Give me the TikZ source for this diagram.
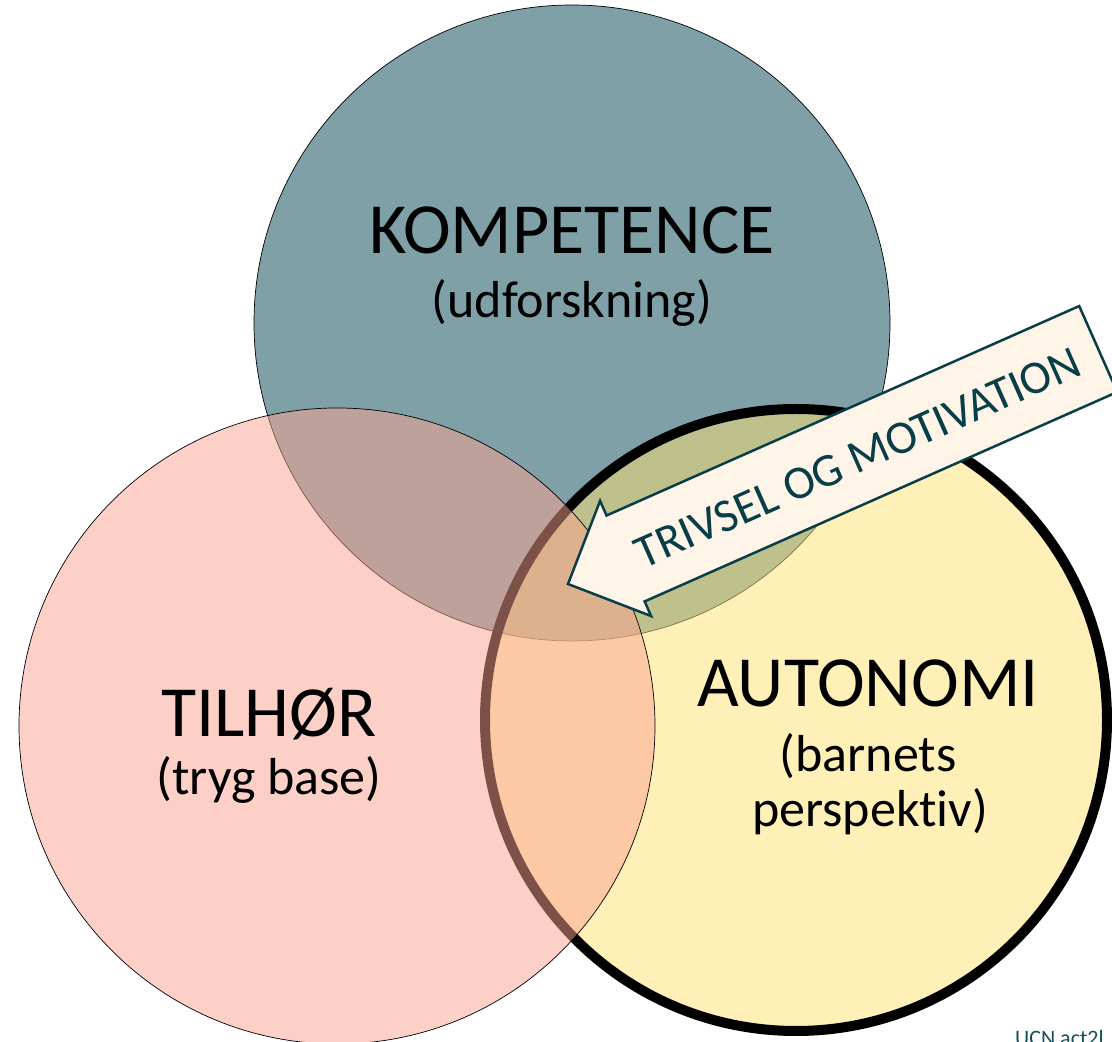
\documentclass[tikz,border=0pt]{standalone}
\usepackage{fontspec}
\setmainfont{Carlito}[Ligatures=NoCommon]
\usepackage{xcolor}
\usetikzlibrary{positioning}

\definecolor{kompteal}{RGB}{127,160,167}
\definecolor{autoyellow}{RGB}{255,227,115}
\definecolor{tilpink}{RGB}{253,163,145}
\definecolor{arrowcream}{RGB}{254,244,232}
\definecolor{arrowteal}{RGB}{8,62,72}
\definecolor{ucnteal}{RGB}{20,80,92}

\newcommand{\bigtxt}{\fontsize{72}{86}\selectfont}
\newcommand{\subtxt}{\fontsize{52}{62}\selectfont}

\tikzset{
  title/.style={anchor=base, inner sep=0pt, font=\bigtxt},
  subtitle/.style={anchor=base, inner sep=0pt, font=\subtxt},
  ring/.style={draw=black, line width=0.7pt}
}

\begin{document}
\begin{tikzpicture}[x=1pt,y=1pt]
\clip (0,0) rectangle (1112,1042);
\fill[white] (0,0) rectangle (1112,1042);

% the three circles
\filldraw[ring, fill=kompteal] (572,719) circle (318);
\filldraw[ring, fill=autoyellow, fill opacity=0.5, line width=10pt] (796,322) circle (311);
\filldraw[ring, fill=tilpink, fill opacity=0.5] (337,316) circle (318);

% labels
\node[title] (kompetence) at (572,788) {KOMPETENCE};
\node[subtitle] (udforskning) at (572,724) {(udforskning)};
\node[title] (tilhor) at (269,305) {TILHØR};
\node[subtitle] (trygbase) at (269,247) {(tryg base)};
\node[title] (autonomi) at (868,335) {AUTONOMI};
\node[subtitle] (barnets) at (868,270) {(barnets};
\node[subtitle] (perspektiv) at (870,215) {perspektiv)};

% block arrow
\begin{scope}[shift={(568,458)}, rotate=23.9]
\filldraw[fill=arrowcream, draw=arrowteal, line width=2.5pt, line join=miter]
  (0,0) -- (63,63) -- (63,47) -- (580,47) -- (580,-47) -- (63,-47) -- (63,-63) -- cycle;
\node[arrowteal, rotate=23.9, inner sep=0pt, font=\fontsize{47}{56}\selectfont] (trivsel) at (316,-2) {TRIVSEL OG MOTIVATION};
\end{scope}

\node[anchor=base west, inner sep=0pt, ucnteal, font=\fontsize{22}{26}\selectfont] (ucn) at (1015,-4) {UCN act2l};
\end{tikzpicture}
\end{document}
